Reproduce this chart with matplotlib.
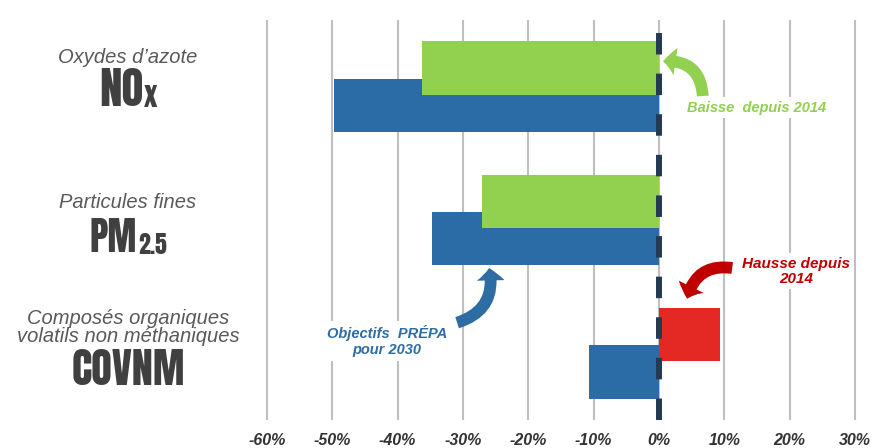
import matplotlib
matplotlib.use('Agg')
import matplotlib.pyplot as plt
import numpy as np
from matplotlib.patches import FancyArrowPatch

# Données (variation des émissions, en %)
polluants = ['NOx', 'PM2.5', 'COVNM']
noms = [["Oxydes d’azote"], ["Particules fines"],
        ["Composés organiques", "volatils non méthaniques"]]
sigles = ['NO', 'PM', 'COVNM']
indices = ['x', '2.5', '']
evolution_2014 = [-36.3, -27.1, 9.3]
objectifs_2030 = [-49.8, -34.8, -10.7]
ticks = [-60, -50, -40, -30, -20, -10, 0, 10, 20, 30]
tick_labels = ['%d%%' % t for t in ticks]

VERT = '#92d050'
BLEU = '#2b6ca6'
ROUGE = '#e42824'
ROUGE_TXT = '#c00000'
BLEU_TXT = '#2e6da4'
GRAS = ['Anton', 'DejaVu Sans']
W, H = 872, 448

fig = plt.figure(figsize=(W / 100, H / 100), dpi=100)
ax = fig.add_axes([263.7 / W, 28 / H, 594.6 / W, 400 / H])


def fx(px):
    return px / W


def fy(py):
    return 1 - py / H


y = np.arange(len(polluants))
hauteur = 0.4
decal = 0.14

ax.barh(y + decal, objectifs_2030, height=hauteur, color=BLEU, zorder=2)
couleurs = [VERT if v < 0 else ROUGE for v in evolution_2014]
ax.barh(y - decal, evolution_2014, height=hauteur, color=couleurs, zorder=3)

ax.axvline(0, color='#243a53', lw=4.3, linestyle=(0, (3.6, 3.2)), zorder=4)

ax.set_xlim(-60.5, 30.5)
ax.set_ylim(2.5, -0.5)
ax.set_xticks(ticks)
ax.set_xticklabels(tick_labels, fontfamily='Liberation Sans', fontsize=11.5,
                   fontweight='bold', fontstyle='italic', color='#333333')
ax.tick_params(axis='x', length=0, pad=9)
ax.set_yticks([])
ax.grid(axis='x', color='#bfbfbf', lw=1.5, zorder=0)
ax.set_axisbelow(True)
for s in ax.spines.values():
    s.set_visible(False)

# Libellés à gauche
nom_baselines = [[63], [208], [324, 342]]
sigle_baselines = [106, 252, 385]
sigle_tailles = [32.5, 28, 30.5]
sous_tailles = [21, 17, 17]
paires = []
for i in range(len(polluants)):
    for ligne, b in zip(noms[i], nom_baselines[i]):
        fig.text(fx(128), fy(b), ligne, ha='center', va='baseline',
                 fontfamily='Liberation Sans', fontstyle='italic',
                 fontsize=14.5, color='#595959')
    t = fig.text(fx(128), fy(sigle_baselines[i]), sigles[i],
                 ha='center', va='baseline', fontfamily=GRAS,
                 fontsize=sigle_tailles[i], color='#404040')
    sub = None
    if indices[i]:
        sub = ax.annotate(indices[i], xy=(1, 0), xycoords=t,
                          xytext=(0.5, 0), textcoords='offset points',
                          ha='left', va='bottom', annotation_clip=False,
                          fontfamily=GRAS, fontsize=sous_tailles[i],
                          color='#404040')
    paires.append((t, sub))

# centrage des sigles avec leur indice
fig.canvas.draw()
rend = fig.canvas.get_renderer()
for t, sub in paires:
    w1 = t.get_window_extent(rend).width
    w2 = sub.get_window_extent(rend).width if sub is not None else 0
    t.set_x(fx(128 - (w1 + w2) / 2 + w1 / 2))

# Annotations
boite = dict(facecolor='white', edgecolor='none', pad=2.5)
ax.text(15.0, 0.16, 'Baisse  depuis 2014', ha='center', va='center',
        fontfamily='Liberation Sans', fontweight='bold', fontstyle='italic',
        fontsize=10.5, color=VERT, bbox=boite, zorder=5)
ax.text(21.0, 1.383, 'Hausse depuis\n2014', ha='center', va='center',
        fontfamily='Liberation Sans', fontweight='bold', fontstyle='italic',
        fontsize=11, color=ROUGE_TXT, bbox=boite, zorder=5, linespacing=1.1)
ax.text(-41.65, 1.908, 'Objectifs  PRÉPA\npour 2030', ha='center', va='center',
        fontfamily='Liberation Sans', fontweight='bold', fontstyle='italic',
        fontsize=10.5, color=BLEU_TXT, bbox=boite, zorder=5, linespacing=1.2)

style = 'simple,head_length=0.9,head_width=2.0,tail_width=0.85'
fleches = [
    ((6.7, 0.07), (0.6, -0.19), 0.5, VERT),
    ((11.2, 1.36), (4.3, 1.59), 0.45, ROUGE_TXT),
    ((-30.9, 1.77), (-26.0, 1.36), 0.45, BLEU_TXT),
]
for a, b, rad, c in fleches:
    ax.add_patch(FancyArrowPatch(a, b, arrowstyle=style, mutation_scale=10,
                                 connectionstyle='arc3,rad=%.2f' % rad,
                                 color=c, lw=0, shrinkA=0, shrinkB=0,
                                 zorder=6, clip_on=False))

fig.savefig('out.png', dpi=100)
